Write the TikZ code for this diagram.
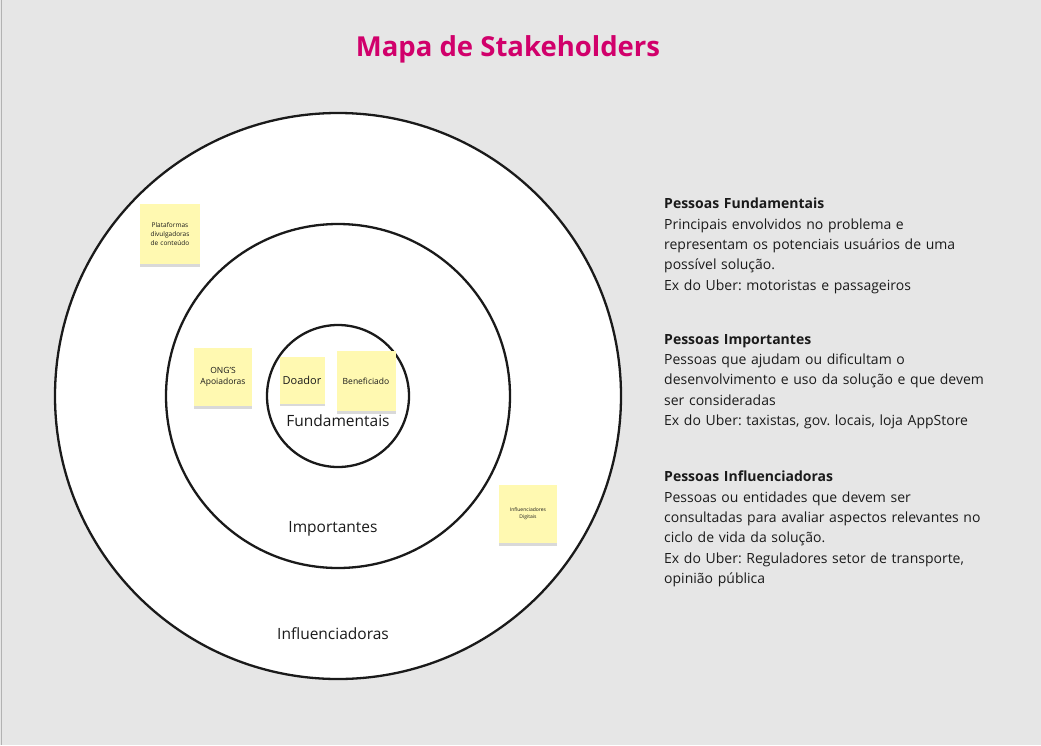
\documentclass[tikz,border=0pt]{standalone}
\usepackage{fontspec}
\setmainfont{Open Sans}
\frenchspacing
\usetikzlibrary{shadows}
\definecolor{bg}{HTML}{E6E6E6}
\definecolor{titlepink}{HTML}{D1006B}
\definecolor{sticky}{HTML}{FFF9B1}
\definecolor{ink}{HTML}{1A1A1A}
\tikzset{
  ring/.style={draw=ink, line width=2.3pt, fill=white},
  note/.style={fill=sticky, inner sep=1pt, align=center, text=ink,
    drop shadow={shadow xshift=0pt, shadow yshift=-2.5pt, opacity=0.15, fill=black}},
  ringlabel/.style={font=\fontsize{15.5}{18}\selectfont, text=ink, inner sep=0pt},
  infotext/.style={anchor=north west, inner sep=0pt, text width=340pt, align=left,
    font=\fontsize{14}{20.3}\selectfont\frenchspacing, text=ink}
}
\begin{document}
\begin{tikzpicture}[x=1pt,y=-1pt]
\useasboundingbox (0,0) rectangle (1041,745);
\fill[bg] (0,0) rectangle (1041,745);
\draw[gray!60, line width=0.8pt] (1.5,0) -- (1.5,745);
% title
\node[font=\fontsize{27.5}{32}\selectfont\bfseries, text=titlepink] (title) at (508,49) {Mapa de Stakeholders};
% rings
\node[ring, circle, minimum size=566pt, inner sep=0pt] (outer) at (338,396) {};
\node[ring, circle, minimum size=344pt, inner sep=0pt] (middle) at (338,396) {};
\node[ring, circle, minimum size=142pt, inner sep=0pt] (inner) at (338,396) {};
% ring labels
\node[ringlabel] (lfund) at (338,421) {Fundamentais};
\node[ringlabel] (limp) at (333,529) {Importantes};
\node[ringlabel] (linf) at (333,634) {Influenciadoras};
% sticky notes
\node[note, minimum width=60pt, minimum height=60pt, text width=58pt,
  font=\fontsize{6.5}{9}\selectfont] (plat) at (170,234) {Plataformas\\divulgadoras\\de conteúdo};
\node[note, minimum width=58pt, minimum height=58pt, text width=56pt,
  font=\fontsize{8.5}{11}\selectfont] (ongs) at (223,377) {ONG'S\\Apoiadoras};
\node[note, minimum width=45pt, minimum height=47pt, text width=43pt,
  font=\fontsize{11}{12}\selectfont] (doador) at (302,380) {Doador};
\node[note, minimum width=59pt, minimum height=60pt, text width=57pt,
  font=\fontsize{8.5}{11}\selectfont] (benef) at (366,381) {Beneficiado};
\node[note, minimum width=58pt, minimum height=58pt, text width=56pt,
  font=\fontsize{5}{7}\selectfont] (infdig) at (528,514) {Influenciadores\\Digitais};
% descriptions
\node[infotext] (tfund) at (664,198) {\textbf{Pessoas Fundamentais}\\
Principais envolvidos no problema e\\
representam os potenciais usuários de uma\\
possível solução.\\
Ex do Uber: motoristas e passageiros};
\node[infotext] (timp) at (664,334) {\textbf{Pessoas Importantes}\\
Pessoas que ajudam ou dificultam o\\
desenvolvimento e uso da solução e que devem\\
ser consideradas\\
Ex do Uber: taxistas, gov. locais, loja AppStore};
\node[infotext] (tinf) at (664,471) {\textbf{Pessoas Influenciadoras}\\
Pessoas ou entidades que devem ser\\
consultadas para avaliar aspectos relevantes no\\
ciclo de vida da solução.\\
Ex do Uber: Reguladores setor de transporte,\\
opinião pública};
\end{tikzpicture}
\end{document}
